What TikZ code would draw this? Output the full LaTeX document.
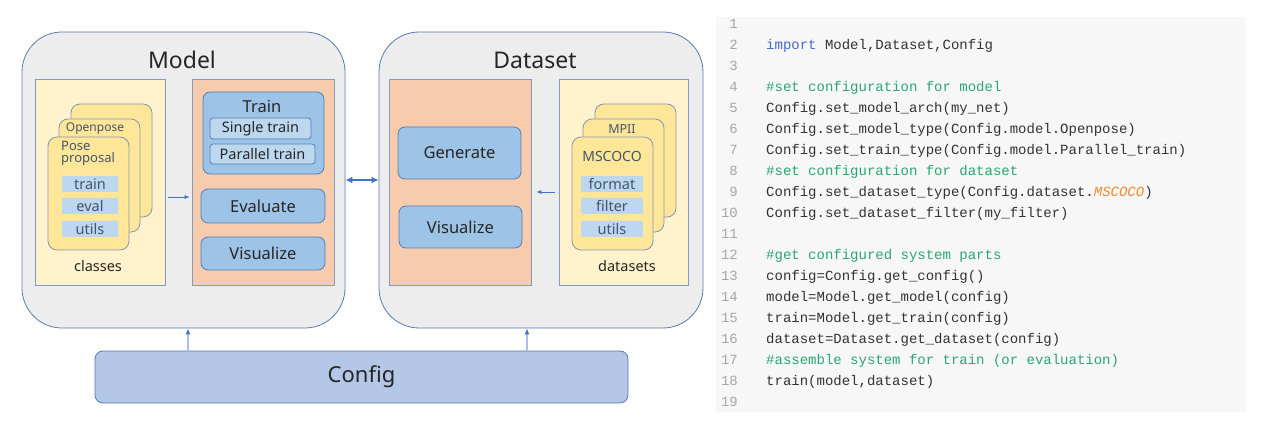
\documentclass[tikz,border=0pt]{standalone}
\usepackage{fontspec}
\setmainfont{Noto Sans}
\newfontfamily\codefont{Liberation Mono}
\usetikzlibrary{arrows.meta,positioning}
\definecolor{panelgray}{HTML}{EDEDED}
\definecolor{outerblue}{HTML}{5B7BB4}
\definecolor{edgeblue}{HTML}{8499C4}
\definecolor{lightyellow}{HTML}{FFF2CC}
\definecolor{cardyellow}{HTML}{FFE699}
\definecolor{cardedge}{HTML}{8497B0}
\definecolor{salmon}{HTML}{F8CBAD}
\definecolor{btnblue}{HTML}{9DC3E6}
\definecolor{btnedge}{HTML}{4F7FB8}
\definecolor{chipblue}{HTML}{BDD7EE}
\definecolor{chiptext}{HTML}{44546A}
\definecolor{cfgblue}{HTML}{B4C7E7}
\definecolor{arrowblue}{HTML}{4472C4}
\definecolor{stemblue}{HTML}{A9C1E8}
\definecolor{codebg}{HTML}{F7F7F7}
\definecolor{codetext}{HTML}{333333}
\definecolor{linenum}{HTML}{A6A6A6}
\definecolor{comment}{HTML}{2AA673}
\definecolor{keyword}{HTML}{4169D4}
\definecolor{literal}{HTML}{EE8A2A}
\tikzset{
    outer/.style={draw=outerblue,fill=panelgray,line width=0.8pt,rounded corners=40pt},
    yellowbox/.style={draw=edgeblue,fill=lightyellow,line width=0.8pt},
    orangebox/.style={draw=edgeblue,fill=salmon,line width=0.8pt},
    card/.style={draw=cardedge,fill=cardyellow,line width=0.8pt,rounded corners=9pt,minimum width=81pt,minimum height=113pt},
    chip/.style={fill=chipblue,text=chiptext,inner sep=0pt,rounded corners=1pt,minimum height=16pt,font=\fontsize{14.5}{14.5}\selectfont},
    btn/.style={draw=btnedge,fill=btnblue,line width=0.8pt,rounded corners=7pt,text=black!85,font=\fontsize{16.5}{16.5}\selectfont},
    subbtn/.style={draw=btnedge,fill=chipblue,line width=0.8pt,rounded corners=3pt,text=black!85,inner sep=0pt,font=\fontsize{14.5}{14.5}\selectfont},
    title/.style={text=black!85,font=\fontsize{23}{23}\selectfont},
    cardlabel/.style={text=chiptext,inner sep=0pt},
    thinarrow/.style={-{Latex[length=5pt,width=4pt]},arrowblue,line width=0.6pt},
    cfgarrow/.style={-{Latex[length=6pt,width=5pt,color=arrowblue]},stemblue,line width=1.5pt},
    code/.style={font=\codefont\fontsize{14}{14}\selectfont,text=codetext,anchor=west,inner sep=0pt,text height=10pt,text depth=3pt},
    lnum/.style={font=\codefont\fontsize{14}{14}\selectfont,text=linenum,anchor=east,inner sep=0pt,text height=10pt,text depth=3pt}
}
\begin{document}
\begin{tikzpicture}[x=1pt,y=-1pt]
\useasboundingbox[fill=white] (0,0) rectangle (1261,438);

% model side
\node[outer,minimum width=323pt,minimum height=296pt] (model) at (183.5,180) {};
\node[title] (modeltitle) at (182,60) {Model};
\node[yellowbox,minimum width=130pt,minimum height=206pt] (mcls) at (100,182) {};
\node[orangebox,minimum width=142pt,minimum height=206pt] (mtools) at (263,182) {};

\node[card] (mcardC) at (111.5,160.5) {};
\node[card] (mcardB) at (99.5,175.5) {};
\node[cardlabel,font=\fontsize{12}{12}\selectfont] (openpose) at (95,129) {Openpose};
\node[card] (mcardA) at (88.5,193.5) {};
\node[cardlabel,anchor=west,align=left,font=\fontsize{13}{12}\selectfont] (poseprop) at (61,153) {Pose\\proposal};
\node[chip,minimum width=56pt] (mtrain) at (90,184) {train};
\node[chip,minimum width=56pt] (meval) at (90,206) {eval};
\node[chip,minimum width=56pt] (mutils) at (90,229) {utils};
\node[text=black!85,font=\fontsize{14.5}{14.5}\selectfont] (classes) at (98,266) {classes};

\node[btn,minimum width=121pt,minimum height=82pt] (train) at (263.5,133) {};
\node[text=black!85,font=\fontsize{16.5}{16.5}\selectfont] (traintitle) at (262,107) {Train};
\node[subbtn,minimum width=101pt,minimum height=21pt] (single) at (260.5,128.5) {Single train};
\node[subbtn,minimum width=105pt,minimum height=20pt] (parallel) at (262.5,154) {Parallel train};
\node[btn,minimum width=124pt,minimum height=34pt] (evaluate) at (263,206) {Evaluate};
\node[btn,minimum width=124pt,minimum height=33pt] (mvis) at (263,253.5) {Visualize};

% dataset side
\node[outer,minimum width=324pt,minimum height=296pt] (dataset) at (541,180) {};
\node[title] (datatitle) at (535,60) {Dataset};
\node[orangebox,minimum width=142pt,minimum height=206pt] (dtools) at (460,182) {};
\node[yellowbox,minimum width=129pt,minimum height=206pt] (dsets) at (623.5,182) {};

\node[btn,minimum width=123pt,minimum height=52pt] (generate) at (459.5,153) {Generate};
\node[btn,minimum width=123pt,minimum height=42pt] (dvis) at (460.5,227) {Visualize};

\node[card] (dcardC) at (635.5,160.5) {};
\node[card] (dcardB) at (623.5,175.5) {};
\node[cardlabel,font=\fontsize{12.5}{12.5}\selectfont] (mpii) at (622,129) {MPII};
\node[card] (dcardA) at (612.5,193.5) {};
\node[cardlabel,font=\fontsize{14}{14}\selectfont] (mscoco) at (612,156) {MSCOCO};
\node[chip,minimum width=62pt] (dformat) at (612,184) {format};
\node[chip,minimum width=62pt] (dfilter) at (612,206) {filter};
\node[chip,minimum width=62pt] (dutils) at (612,229) {utils};
\node[text=black!85,font=\fontsize{14.5}{14.5}\selectfont] (datasets) at (627,266) {datasets};

% config
\node[draw=outerblue,fill=cfgblue,line width=0.8pt,rounded corners=8pt,minimum width=533pt,minimum height=52pt,text=black!85,font=\fontsize{22}{22}\selectfont] (config) at (361.5,377) {Config};

% connectors
\draw[thinarrow] ([xshift=3pt,yshift=-15pt]mcls.east) -- ([xshift=-2pt,yshift=-15pt]mtools.west);
\draw[thinarrow] ([xshift=-4pt,yshift=-10pt]dsets.west) -- ([xshift=5pt,yshift=-10pt]dtools.east);
\draw[{Latex[length=7pt,width=7pt]}-{Latex[length=7pt,width=7pt]},arrowblue,line width=2pt] (model.east) -- (dataset.west);
\draw[cfgarrow] ([xshift=-173.5pt]config.north) -- ([xshift=4.5pt]model.south);
\draw[cfgarrow] ([xshift=165.5pt]config.north) -- ([xshift=-14pt]dataset.south);

% code panel
\fill[codebg] (716,17) rectangle (1246,412);
\foreach \n in {1,...,19}
    \node[lnum] (ln\n) at (738,{25+21*(\n-1)}) {\n};
\node[code] (c2) at (766,46) {\textcolor{keyword}{import} Model,Dataset,Config};
\node[code,text=comment] (c4) at (766,88) {\#set configuration for model};
\node[code] (c5) at (766,109) {Config.set\_model\_arch(my\_net)};
\node[code] (c6) at (766,130) {Config.set\_model\_type(Config.model.Openpose)};
\node[code] (c7) at (766,151) {Config.set\_train\_type(Config.model.Parallel\_train)};
\node[code,text=comment] (c8) at (766,172) {\#set configuration for dataset};
\node[code] (c9) at (766,193) {Config.set\_dataset\_type(Config.dataset.\textcolor{literal}{\itshape MSCOCO})};
\node[code] (c10) at (766,214) {Config.set\_dataset\_filter(my\_filter)};
\node[code,text=comment] (c12) at (766,256) {\#get configured system parts};
\node[code] (c13) at (766,277) {config=Config.get\_config()};
\node[code] (c14) at (766,298) {model=Model.get\_model(config)};
\node[code] (c15) at (766,319) {train=Model.get\_train(config)};
\node[code] (c16) at (766,340) {dataset=Dataset.get\_dataset(config)};
\node[code,text=comment] (c17) at (766,361) {\#assemble system for train (or evaluation)};
\node[code] (c18) at (766,382) {train(model,dataset)};
\end{tikzpicture}
\end{document}
